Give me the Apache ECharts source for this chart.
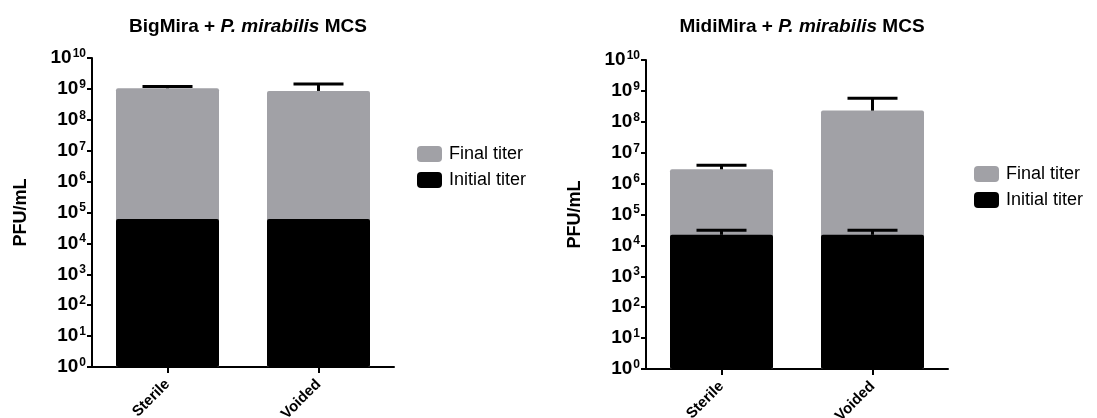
<!DOCTYPE html>
<html>
<head>
<meta charset="utf-8">
<script src="https://cdn.jsdelivr.net/npm/echarts@6/dist/echarts.min.js"></script>
<style>
html,body{margin:0;padding:0;background:#fff;}
#c{width:1097px;height:418px;}
</style>
</head>
<body>
<div id="c"></div>
<script>
// ---- data ----
const categories = ['Sterile', 'Voided'];
const seriesNames = ['Final titer', 'Initial titer'];
// BigMira + P. mirabilis MCS
const bigFinal = [1.05e9, 8.6e8];
const bigFinalErr = [1.2e9, 1.45e9];   // upper end of error bar
const bigInitial = [6.2e4, 6.2e4];
// MidiMira + P. mirabilis MCS
const midiFinal = [2.9e6, 2.3e8];
const midiFinalErr = [3.9e6, 5.8e8];
const midiInitial = [2.2e4, 2.2e4];
const midiInitialErr = [3.1e4, 3.1e4];
const yTickExponents = [0, 1, 2, 3, 4, 5, 6, 7, 8, 9, 10];

const GRAY = '#a1a1a6';
const FONT = 'Liberation Sans, Arial, sans-serif';

function errData(vals, ups) {
  return vals.map((v, i) => [i, v, ups[i]]);
}
function errSeries(gi, vals, ups) {
  return {
    type: 'custom',
    xAxisIndex: gi, yAxisIndex: gi,
    z: 5,
    silent: true,
    data: errData(vals, ups),
    renderItem: function (params, api) {
      const x = api.value(0);
      const p0 = api.coord([x, api.value(1)]);
      const p1 = api.coord([x, api.value(2)]);
      const half = 25;
      const st = { stroke: '#000', lineWidth: 3 };
      return {
        type: 'group',
        children: [
          { type: 'line', shape: { x1: p0[0], y1: p0[1], x2: p1[0], y2: p1[1] }, style: st },
          { type: 'line', shape: { x1: p1[0] - half, y1: p1[1], x2: p1[0] + half, y2: p1[1] }, style: st }
        ]
      };
    }
  };
}

const expSet = {};
yTickExponents.forEach(e => expSet[e] = true);

function yAxis(gi) {
  return {
    type: 'log', gridIndex: gi, logBase: 10,
    min: 1, max: 1e10, interval: 1,
    name: 'PFU/mL', nameLocation: 'middle', nameGap: 62, nameRotate: 90,
    nameTextStyle: { fontFamily: FONT, fontWeight: 'bold', fontSize: 18, color: '#000' },
    axisLine: { show: true, lineStyle: { color: '#000', width: 2 } },
    axisTick: { show: true, length: 5, lineStyle: { color: '#000', width: 2 } },
    splitLine: { show: false },
    axisLabel: {
      margin: 6,
      formatter: function (v) {
        const e = Math.round(Math.log10(v));
        if (!expSet[e]) return '';
        return '{b|10}{s|' + e + '}';
      },
      rich: {
        b: { fontFamily: FONT, fontWeight: 'bold', fontSize: 19, color: '#000' },
        s: { fontFamily: FONT, fontWeight: 'bold', fontSize: 12, color: '#000', padding: [0, 0, 9, 1] }
      }
    }
  };
}
function xAxis(gi) {
  return {
    type: 'category', gridIndex: gi, data: categories,
    axisLine: { show: true, lineStyle: { color: '#000', width: 2 } },
    axisTick: { show: true, alignWithLabel: true, length: 6, lineStyle: { color: '#000', width: 2 } },
    axisLabel: { rotate: 45, margin: 15, fontFamily: FONT, fontWeight: 'bold', fontSize: 15, color: '#000' }
  };
}
function barSeries(gi, name, vals, color) {
  return {
    type: 'bar', name: name, xAxisIndex: gi, yAxisIndex: gi,
    data: vals, barWidth: 103, barGap: '-100%',
    itemStyle: { color: color, borderRadius: 2 },
    silent: true
  };
}
function title(x, prefix) {
  return {
    left: x, top: 12, textAlign: 'center',
    text: '{b|' + prefix + ' + }{i|P. mirabilis}{b| MCS}',
    textStyle: {
      rich: {
        b: { fontFamily: FONT, fontWeight: 'bold', fontSize: 19, color: '#000' },
        i: { fontFamily: FONT, fontWeight: 'bold', fontStyle: 'italic', fontSize: 19, color: '#000' }
      }
    }
  };
}
function legend(x, y) {
  return {
    left: x, top: y, orient: 'vertical', data: seriesNames,
    icon: 'roundRect', itemWidth: 25, itemHeight: 16, itemGap: 8,
    textStyle: { fontFamily: FONT, fontSize: 18, color: '#000', padding: [0, 0, 0, 2] },
    selectedMode: false
  };
}

const chart = echarts.init(document.getElementById('c'), null, { renderer: 'canvas' });
chart.setOption({
  animation: false,
  backgroundColor: '#fff',
  title: [title(243, 'BigMira'), title(797, 'MidiMira')],
  legend: [legend(412, 140), legend(969, 160)],
  grid: [
    { left: 92, top: 58, width: 302, height: 309, outerBoundsMode: 'none', containLabel: false },
    { left: 646, top: 60, width: 302, height: 309, outerBoundsMode: 'none', containLabel: false }
  ],
  xAxis: [xAxis(0), xAxis(1)],
  yAxis: [yAxis(0), yAxis(1)],
  series: [
    barSeries(0, seriesNames[0], bigFinal, GRAY),
    barSeries(0, seriesNames[1], bigInitial, '#000'),
    errSeries(0, bigFinal, bigFinalErr),
    barSeries(1, seriesNames[0], midiFinal, GRAY),
    barSeries(1, seriesNames[1], midiInitial, '#000'),
    errSeries(1, midiFinal, midiFinalErr),
    errSeries(1, midiInitial, midiInitialErr)
  ]
});
</script>
</body>
</html>
